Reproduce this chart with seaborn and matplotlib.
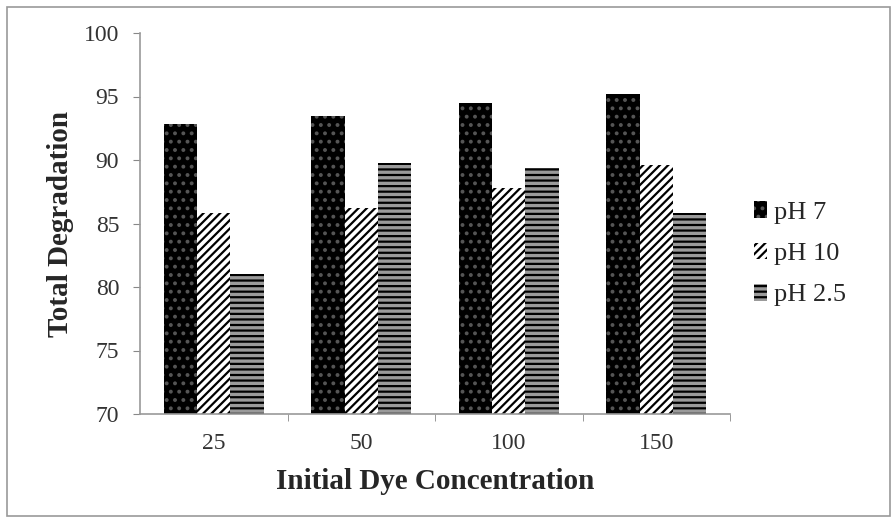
import matplotlib
matplotlib.use("Agg")
import matplotlib.pyplot as plt
import seaborn as sns
import pandas as pd
from matplotlib.patches import Rectangle

categories = ["25", "50", "100", "150"]
series = ["pH 7", "pH 10", "pH 2.5"]
ph7 = [92.8, 93.5, 94.5, 95.2]
ph10 = [85.8, 86.2, 87.8, 89.6]
ph25 = [81.0, 89.8, 89.4, 85.8]

rows = []
for s, vals in zip(series, [ph7, ph10, ph25]):
    for c, v in zip(categories, vals):
        rows.append({"conc": c, "series": s, "value": v})
df = pd.DataFrame(rows)

sns.set_style("white")
plt.rcParams["font.family"] = ["Liberation Serif", "DejaVu Serif"]
plt.rcParams["hatch.linewidth"] = 1.6

fig = plt.figure(figsize=(8.96, 5.20), dpi=100)
ax = fig.add_axes([140/896, 1-414/520, (730-140)/896, (414-33)/520])

sns.barplot(data=df, x="conc", y="value", hue="series", order=categories,
            hue_order=series, ax=ax, width=0.68, legend=True, gap=0,
            palette=["black", "white", "#8a8a8a"], saturation=1)

styles = {
    "pH 7": dict(face="black", hatch="..", hcol="#555555"),
    "pH 10": dict(face="white", hatch="////", hcol="black"),
    "pH 2.5": dict(face="#9a9a9a", hatch="---", hcol="black"),
}
for cont, s in zip(ax.containers, series):
    st = styles[s]
    for p in cont:
        p.set_facecolor(st["face"])
        p.set_hatch(st["hatch"])
        p.set_edgecolor(st["hcol"])
        p.set_linewidth(0)

ax.set_ylim(70, 100)
ax.set_yticks([70, 75, 80, 85, 90, 95, 100])
ax.set_xlim(-0.5, 3.5)
ax.tick_params(axis="y", labelsize=17, length=5, direction="out", left=True,
               colors="#888888", labelcolor="#333333", pad=10)
ax.set_xticks(range(4))
ax.set_xticklabels(categories)
ax.tick_params(axis="x", which="major", length=0, labelsize=17, labelcolor="#333333", pad=14)
ax.set_xticks([0.5, 1.5, 2.5, 3.5], minor=True)
ax.tick_params(axis="x", which="minor", length=5, direction="out", bottom=True, colors="#888888")
for sp in ["top", "right"]:
    ax.spines[sp].set_visible(False)
for sp in ["left", "bottom"]:
    ax.spines[sp].set_color("#999999")
    ax.spines[sp].set_linewidth(1.2)

ax.set_xlabel("Initial Dye Concentration", fontsize=21, fontweight="bold", labelpad=10)
ax.set_ylabel("Total Degradation", fontsize=21, fontweight="bold", labelpad=7)

handles, labels = ax.get_legend_handles_labels()
for h, s in zip(handles, series):
    st = styles[s]
    h.set_facecolor(st["face"])
    h.set_hatch(st["hatch"])
    h.set_edgecolor(st["hcol"])
    h.set_linewidth(0)
ax.legend(handles, labels, loc="center left", bbox_to_anchor=(1.0, 0.42),
          frameon=False, fontsize=19, handlelength=0.5, handleheight=0.6,
          handletextpad=0.25, labelspacing=0.7)

fig.patches.append(Rectangle((7/896, 4/520), (890-7)/896, (513-4)/520,
                             transform=fig.transFigure, fill=False,
                             edgecolor="#999999", linewidth=1.2))

fig.savefig("out.png", dpi=100)
